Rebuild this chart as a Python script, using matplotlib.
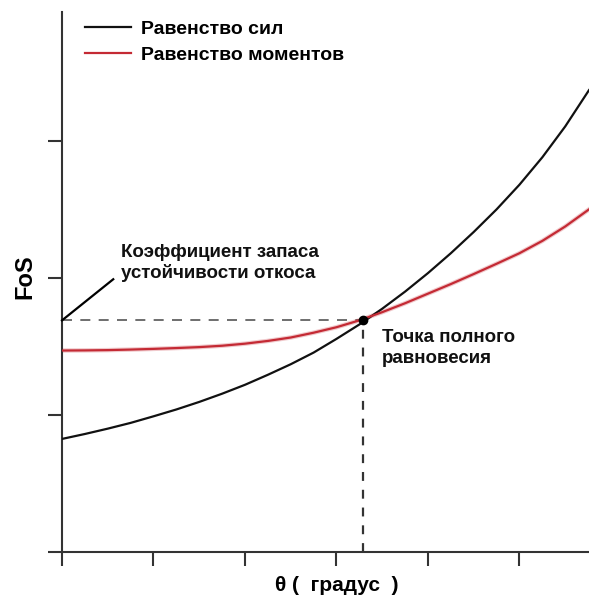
import numpy as np
import matplotlib
matplotlib.use("Agg")
import matplotlib.pyplot as plt

plt.rcParams['font.family'] = ['Liberation Sans', 'DejaVu Sans']
plt.rcParams['font.weight'] = 'bold'

# angle samples (degrees, arbitrary units on the chart)
theta = [0.0, 0.25, 0.5, 0.75, 1.0, 1.25, 1.5, 1.75, 2.0, 2.25, 2.5, 2.75,
         3.0, 3.25, 3.5, 3.75, 4.0, 4.25, 4.5, 4.75, 5.0, 5.25, 5.5, 5.76]
# factor of safety from force equilibrium
fos_force = [0.825, 0.861, 0.90, 0.942, 0.99, 1.04, 1.095, 1.155, 1.22, 1.293,
             1.37, 1.455, 1.555, 1.66, 1.775, 1.90, 2.035, 2.18, 2.335, 2.50,
             2.68, 2.88, 3.105, 3.37]
# factor of safety from moment equilibrium
fos_moment = [1.47, 1.471, 1.473, 1.477, 1.482, 1.488, 1.495, 1.505, 1.52, 1.54,
              1.565, 1.60, 1.64, 1.69, 1.75, 1.815, 1.885, 1.955, 2.028, 2.103,
              2.18, 2.27, 2.375, 2.50]

# point where both curves meet
theta_eq = 3.29
fos_eq = 1.69

legend_labels = ['Равенство сил', 'Равенство моментов']
y_label = 'FoS'
x_label = 'θ (  градус  )'
note_fos = 'Коэффициент запаса\nустойчивости откоса'
note_eq = 'Точка полного\nравновесия'

W, H = 589, 598
fig = plt.figure(figsize=(W / 100, H / 100), dpi=100)
ax = fig.add_axes([62 / W, 46 / H, 527 / W, 540 / H])
ax.set_xlim(0, 5.76)
ax.set_ylim(0, 3.94)

red = '#c42a34'
ax.plot(theta, fos_force, color='#111111', lw=1.6, label=legend_labels[0], zorder=3)
ax.plot(theta, fos_moment, color=red, lw=1.6, label=legend_labels[1], zorder=3)
# faint halo around the red line
ax.plot(theta, fos_moment, color=red, lw=3.2, alpha=0.25, zorder=2)

# guide lines to the equilibrium point
ax.plot([0, theta_eq], [fos_eq, fos_eq], color='#555555', lw=1.2,
        dashes=(6, 5), zorder=1)
ax.plot([theta_eq, theta_eq], [0, fos_eq], color='#333333', lw=1.6,
        dashes=(4, 4), zorder=1)
ax.plot([theta_eq], [fos_eq], 'o', color='black', ms=6, zorder=4)

# pointer from the axis to the note
ax.plot([0, 0.56], [fos_eq, 1.99], color='black', lw=1.6, clip_on=False, zorder=4)
ax.text(0.64, 2.11, note_fos, fontsize=13.5, fontweight='bold', va='center',
        ha='left', linespacing=1.25, color='#111111')
ax.text(3.50, 1.49, note_eq, fontsize=13.5, fontweight='bold', va='center',
        ha='left', linespacing=1.3, color='#111111')

for s in ['top', 'right']:
    ax.spines[s].set_visible(False)
for s in ['left', 'bottom']:
    ax.spines[s].set_color('#333333')
    ax.spines[s].set_linewidth(1.5)

ax.set_xticks([0, 1, 2, 3, 4, 5])
ax.set_yticks([0, 1, 2, 3])
ax.tick_params(axis='both', direction='out', length=10, width=1.5,
               color='#333333', labelbottom=False, labelleft=False)

ax.set_ylabel(y_label, fontsize=17, fontweight='bold')
ax.yaxis.set_label_coords(-0.049, 0.51)
ax.set_xlabel(x_label, fontsize=15, fontweight='bold')
ax.xaxis.set_label_coords(3 / 5.76, -0.045)

leg = ax.legend(loc='upper left', bbox_to_anchor=(85 / W, 1 - 20 / H),
                bbox_transform=fig.transFigure, frameon=False, fontsize=14,
                borderpad=0, borderaxespad=0, handlelength=2.37,
                handletextpad=0.5, labelspacing=0.43)
for t in leg.get_texts():
    t.set_fontweight('bold')

fig.savefig('out.png', dpi=100)
